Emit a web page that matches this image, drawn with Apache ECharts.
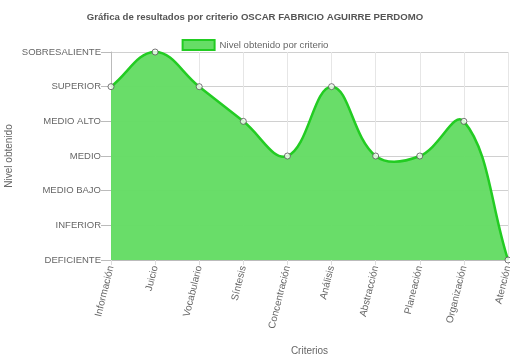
<!DOCTYPE html>
<html><head><meta charset="utf-8">
<script src="https://cdn.jsdelivr.net/npm/echarts@6/dist/echarts.min.js"></script>
<style>html,body{margin:0;padding:0;background:#fff}#c{width:510px;height:361px}</style>
</head><body><div id="c"></div>
<script>
const categories = ['Información','Juicio','Vocabulario','Síntesis','Concentración','Análisis','Abstracción','Planeación','Organización','Atención'];
const levels = ['DEFICIENTE','INFERIOR','MEDIO BAJO','MEDIO','MEDIO ALTO','SUPERIOR','SOBRESALIENTE'];
const values = [5,6,5,4,3,5,3,3,4,0];
const seriesName = 'Nivel obtenido por criterio';
const chart = echarts.init(document.getElementById('c'));
const font = 'Liberation Sans, Arial, Helvetica, sans-serif';
const tension = 0.4;

function splinePath(api, params) {
  const pts = values.map((v, i) => api.coord([i, v]));
  const cs = params.coordSys;
  const clampX = x => Math.max(cs.x, Math.min(cs.x + cs.width, x));
  const clampY = y => Math.max(cs.y, Math.min(cs.y + cs.height, y));
  const cps = pts.map((p, i) => {
    const a = pts[i - 1] || p, b = pts[i + 1] || p;
    const d01 = Math.hypot(p[0] - a[0], p[1] - a[1]);
    const d12 = Math.hypot(b[0] - p[0], b[1] - p[1]);
    let s01 = d01 / (d01 + d12), s12 = d12 / (d01 + d12);
    if (isNaN(s01)) s01 = 0; if (isNaN(s12)) s12 = 0;
    const fa = tension * s01, fb = tension * s12;
    return {
      px: clampX(p[0] - fa * (b[0] - a[0])), py: clampY(p[1] - fa * (b[1] - a[1])),
      nx: clampX(p[0] + fb * (b[0] - a[0])), ny: clampY(p[1] + fb * (b[1] - a[1]))
    };
  });
  let d = 'M' + pts[0][0] + ' ' + pts[0][1];
  for (let i = 1; i < pts.length; i++) {
    d += ' C' + cps[i - 1].nx + ' ' + cps[i - 1].ny + ' ' + cps[i].px + ' ' + cps[i].py + ' ' + pts[i][0] + ' ' + pts[i][1];
  }
  const base = api.coord([0, 0])[1];
  const area = d + ' L' + pts[pts.length - 1][0] + ' ' + base + ' L' + pts[0][0] + ' ' + base + ' Z';
  return {area, line: d};
}

chart.setOption({
  animation:false,
  textStyle:{fontFamily:font},
  title:{text:'Gráfica de resultados por criterio OSCAR FABRICIO AGUIRRE PERDOMO',left:'center',top:7,
    textStyle:{fontSize:9.6,fontWeight:'bold',color:'#555',fontFamily:font}},
  legend:{top:34,left:'center',itemWidth:32,itemHeight:10,itemGap:5,
    textStyle:{fontSize:9.6,color:'#666',fontFamily:font},
    data:[{name:seriesName,icon:'rect',itemStyle:{color:'#66dd66',borderColor:'#22cc22',borderWidth:2}}]},
  grid:{left:111,right:2,top:52,bottom:101,containLabel:false,outerBoundsMode:'none'},
  xAxis:{type:'category',data:categories,boundaryGap:false,
    name:'Criterios',nameLocation:'middle',nameGap:86,nameMoveOverlap:false,nameTextStyle:{fontSize:10,color:'#666'},
    axisLine:{lineStyle:{color:'#bbb'}},
    axisTick:{show:true,length:5,lineStyle:{color:'#ddd'}},
    axisLabel:{rotate:76,fontSize:10,color:'#666',margin:6,interval:0},
    splitLine:{show:true,lineStyle:{color:'#e6e6e6'}}},
  yAxis:{type:'value',min:0,max:6,interval:1,
    name:'Nivel obtenido',nameLocation:'middle',nameGap:97,nameMoveOverlap:false,nameTextStyle:{fontSize:10,color:'#666'},
    axisLine:{show:true,lineStyle:{color:'#bbb'}},
    axisTick:{show:true,length:10,lineStyle:{color:'#bbb'}},
    axisLabel:{fontSize:9.5,color:'#666',margin:10,formatter:v=>levels[v]||''},
    splitLine:{show:true,lineStyle:{color:'#d0d0d0'}}},
  series:[
    {name:seriesName,type:'custom',data:values.map((v,i)=>[i,v]),z:2,
     itemStyle:{color:'#66dd66'},
     renderItem:(params, api)=>{
       if (params.dataIndex !== 0) return null;
       const p = splinePath(api, params);
       return {type:'group',children:[
         {type:'path',shape:{pathData:p.area},style:{fill:'#64dc64',stroke:null,opacity:0.97}},
         {type:'path',shape:{pathData:p.line},style:{fill:null,stroke:'#22cc22',lineWidth:2.5}}
       ]};
     }},
    {name:seriesName,type:'scatter',data:values.map((v,i)=>[i,v]),z:3,
     symbol:'circle',symbolSize:6,
     itemStyle:{color:'#fff',borderColor:'#555',borderWidth:1}}
  ]
});
</script></body></html>
